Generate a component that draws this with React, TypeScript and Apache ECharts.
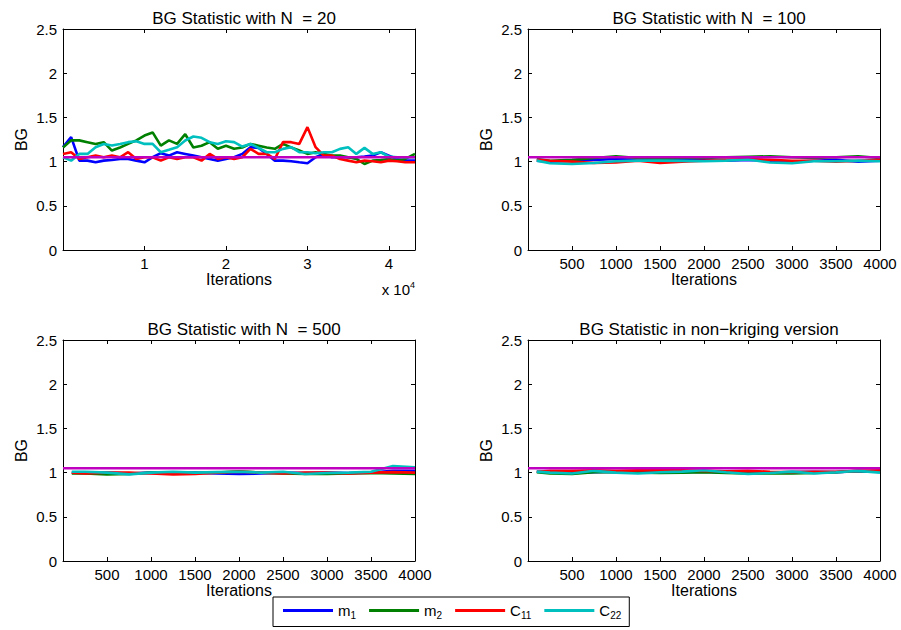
import React, { useEffect, useRef } from 'react';
import * as echarts from 'echarts';

// ---------- data ----------
const iters20 = [0, 1000, 2000, 3000, 4000, 5000, 6000, 7000, 8000, 9000, 10000, 11000, 12000, 13000, 14000, 15000, 16000, 17000, 18000, 19000, 20000, 21000, 22000, 23000, 24000, 25000, 26000, 27000, 28000, 29000, 30000, 31000, 32000, 33000, 34000, 35000, 36000, 37000, 38000, 39000, 40000, 41000, 42000, 43200];
const m1_20 = [1.163, 1.277, 1.011, 1.011, 0.992, 1.011, 1.019, 1.03, 1.03, 1.011, 0.992, 1.049, 1.095, 1.068, 1.106, 1.087, 1.068, 1.049, 1.03, 1.011, 1.03, 1.049, 1.087, 1.163, 1.155, 1.087, 1.011, 1.011, 1.004, 0.992, 0.981, 1.049, 1.087, 1.049, 1.049, 1.049, 1.049, 1.057, 1.068, 1.106, 1.068, 1.03, 1.011, 1.011];
const m2_20 = [1.16, 1.24, 1.24, 1.22, 1.2, 1.22, 1.125, 1.16, 1.2, 1.24, 1.295, 1.33, 1.18, 1.24, 1.2, 1.31, 1.16, 1.18, 1.22, 1.145, 1.18, 1.145, 1.16, 1.2, 1.18, 1.16, 1.145, 1.2, 1.16, 1.125, 1.087, 1.105, 1.087, 1.068, 1.068, 1.049, 1.03, 0.973, 1.011, 1.019, 1.03, 1.011, 1.03, 1.087];
const c11_20 = [1.087, 1.106, 1.03, 1.049, 1.068, 1.049, 1.068, 1.049, 1.106, 1.03, 1.049, 1.049, 1.011, 1.049, 1.03, 1.049, 1.049, 1.011, 1.087, 1.03, 1.049, 1.03, 1.049, 1.144, 1.087, 1.087, 1.03, 1.22, 1.22, 1.2, 1.39, 1.163, 1.068, 1.068, 1.03, 1.011, 0.992, 1.011, 1.004, 0.992, 1.011, 1.004, 0.992, 0.992];
const c22_20 = [1.049, 1.011, 1.087, 1.087, 1.163, 1.2, 1.182, 1.2, 1.22, 1.231, 1.2, 1.2, 1.106, 1.133, 1.163, 1.239, 1.284, 1.269, 1.22, 1.2, 1.231, 1.22, 1.17, 1.2, 1.155, 1.106, 1.106, 1.144, 1.163, 1.106, 1.106, 1.095, 1.106, 1.106, 1.144, 1.163, 1.087, 1.155, 1.087, 1.106, 1.057, 1.049, 1.049, 1.049];

const iters = [100, 250, 500, 750, 1000, 1250, 1500, 1750, 2000, 2250, 2500, 2750, 3000, 3250, 3500, 3750, 4000];

const m1_100 = [1.01, 1.0, 1.01, 1.02, 1.03, 1.02, 1.01, 1.02, 1.02, 1.01, 1.02, 1.01, 1.0, 1.01, 1.02, 1.0, 1.01];
const m2_100 = [1.03, 1.01, 1.02, 1.04, 1.06, 1.04, 1.03, 1.04, 1.04, 1.05, 1.055, 1.06, 1.05, 1.04, 1.05, 1.06, 1.04];
const c11_100 = [1.02, 1.01, 1.0, 0.985, 0.99, 1.01, 0.985, 1.0, 1.01, 1.02, 1.03, 1.02, 1.01, 1.01, 1.0, 1.01, 1.02];
const c22_100 = [1.011, 0.981, 0.973, 0.985, 1.004, 1.011, 1.011, 1.008, 1.004, 1.011, 1.023, 0.989, 0.981, 1.004, 1.004, 1.011, 1.004];

const m1_500 = [1.0, 0.995, 1.0, 0.99, 1.0, 0.995, 1.0, 0.99, 0.985, 0.99, 1.0, 0.995, 1.0, 0.995, 1.0, 1.02, 1.02];
const m2_500 = [0.99, 0.99, 0.98, 0.985, 1.0, 1.0, 0.995, 1.0, 1.015, 1.0, 0.99, 0.985, 0.985, 0.99, 0.995, 0.99, 0.985];
const c11_500 = [1.0, 0.99, 1.0, 1.0, 0.99, 0.98, 0.985, 1.0, 1.01, 1.0, 0.99, 1.0, 1.0, 0.99, 1.0, 1.005, 1.0];
const c22_500 = [1.01, 1.01, 1.0, 0.98, 1.0, 1.01, 1.0, 1.005, 1.01, 1.0, 1.01, 0.985, 0.995, 1.0, 1.01, 1.075, 1.06];

const m1_nk = [1.01, 1.005, 1.0, 1.005, 1.01, 1.005, 1.0, 1.005, 1.01, 1.0, 1.005, 1.0, 1.005, 1.01, 1.005, 1.015, 1.01];
const m2_nk = [1.004, 0.99, 0.985, 1.004, 1.004, 1.0, 0.995, 1.0, 1.004, 0.995, 0.99, 0.99, 0.99, 0.995, 1.004, 1.02, 1.01];
const c11_nk = [1.01, 1.02, 1.02, 1.025, 1.02, 1.025, 1.025, 1.025, 1.02, 1.015, 1.02, 1.01, 1.005, 1.01, 1.01, 1.02, 1.025];
const c22_nk = [1.011, 1.0, 0.99, 1.02, 1.0, 0.99, 1.004, 1.011, 1.027, 1.004, 0.985, 0.996, 1.011, 0.99, 1.004, 1.02, 1.0];

const threshold = 1.05;
const yTicks = [0, 0.5, 1, 1.5, 2, 2.5];
const seriesNames = ['m1', 'm2', 'C11', 'C22'];
const titles = [
  'BG Statistic with N  = 20',
  'BG Statistic with N  = 100',
  'BG Statistic with N  = 500',
  'BG Statistic in non\u2212kriging version',
];

// ---------- layout / style ----------
const FONT = '"Liberation Sans", Arial, Helvetica, sans-serif';
const COLORS = ['#0000ff', '#008000', '#ff0000', '#00bfbf'];
const MAGENTA = '#bf00bf';
const GW = 352;
const GH = 221;

const panels = [
  { x: iters20, ys: [m1_20, m2_20, c11_20, c22_20], xmax: 43200, interval: 10000, scale: 10000, left: 63, top: 29 },
  { x: iters, ys: [m1_100, m2_100, c11_100, c22_100], xmax: 4000, interval: 500, scale: 1, left: 528, top: 29 },
  { x: iters, ys: [m1_500, m2_500, c11_500, c22_500], xmax: 4000, interval: 500, scale: 1, left: 63, top: 340 },
  { x: iters, ys: [m1_nk, m2_nk, c11_nk, c22_nk], xmax: 4000, interval: 500, scale: 1, left: 528, top: 340 },
];

function buildOption() {
  const grid: any[] = [];
  const xAxis: any[] = [];
  const yAxis: any[] = [];
  const series: any[] = [];
  const title: any[] = [];
  const lineAx = { show: true, onZero: false, lineStyle: { color: '#000', width: 1 } };
  const tick = { show: true, inside: true, length: 4, lineStyle: { color: '#000', width: 1 } };
  const labelStyle = { color: '#000', fontSize: 15, fontFamily: FONT };

  panels.forEach((p, i) => {
    grid.push({ left: p.left, top: p.top, width: GW, height: GH, containLabel: false });
    title.push({
      text: titles[i],
      left: p.left + GW / 2,
      top: p.top - 24,
      textAlign: 'center',
      textStyle: { fontSize: 17, fontWeight: 'normal', color: '#000', fontFamily: FONT },
    });
    const fmt = (v: number) => {
      if (v <= 0 || v % p.interval !== 0) return '';
      return String(v / p.scale);
    };
    xAxis.push({
      gridIndex: i, type: 'value', position: 'bottom', min: 0, max: p.xmax, interval: p.interval,
      axisLine: lineAx, axisTick: tick, splitLine: { show: false },
      axisLabel: { ...labelStyle, margin: 6, formatter: fmt, showMinLabel: true, showMaxLabel: true },
      name: 'Iterations', nameLocation: 'middle', nameGap: 21,
      nameTextStyle: { color: '#000', fontSize: 16, fontFamily: FONT },
    });
    xAxis.push({
      gridIndex: i, type: 'value', position: 'top', min: 0, max: p.xmax, interval: p.interval,
      axisLine: lineAx, axisTick: tick, splitLine: { show: false }, axisLabel: { show: false },
    });
    yAxis.push({
      gridIndex: i, type: 'value', position: 'left', min: yTicks[0], max: yTicks[yTicks.length - 1], interval: 0.5,
      axisLine: lineAx, axisTick: tick, splitLine: { show: false },
      axisLabel: { ...labelStyle, margin: 6 },
      name: 'BG', nameLocation: 'middle', nameGap: 34, nameRotate: 90,
      nameTextStyle: { color: '#000', fontSize: 16, fontFamily: FONT },
    });
    yAxis.push({
      gridIndex: i, type: 'value', position: 'right', min: 0, max: 2.5, interval: 0.5,
      axisLine: lineAx, axisTick: tick, splitLine: { show: false }, axisLabel: { show: false },
    });
    p.ys.forEach((arr, k) => {
      series.push({
        name: seriesNames[k], type: 'line', xAxisIndex: 2 * i, yAxisIndex: 2 * i,
        data: p.x.map((xv, j) => [xv, arr[j]]),
        showSymbol: false, symbol: 'none', color: COLORS[k],
        lineStyle: { width: 2.6, color: COLORS[k] },
      });
    });
    series.push({
      name: 'threshold', type: 'line', xAxisIndex: 2 * i, yAxisIndex: 2 * i,
      data: [[0, threshold], [p.xmax, threshold]],
      showSymbol: false, symbol: 'none', color: MAGENTA,
      lineStyle: { width: 2.6, color: MAGENTA },
    });
  });

  return {
    animation: false,
    backgroundColor: '#fff',
    textStyle: { fontFamily: FONT },
    title,
    grid,
    xAxis,
    yAxis,
    series,
    legend: {
      data: seriesNames,
      left: 273, top: 597,
      orient: 'horizontal',
      padding: [6, 8, 6, 10],
      itemGap: 13,
      itemWidth: 50,
      itemHeight: 3,
      icon: 'rect',
      selectedMode: false,
      borderColor: '#000', borderWidth: 1, borderRadius: 0,
      backgroundColor: '#fff',
      formatter: (name: string) => `{b|${name.slice(0, 1)}}{s|${name.slice(1)}}`,
      textStyle: {
        color: '#000', fontFamily: FONT, fontSize: 15,
        rich: {
          b: { fontSize: 15, lineHeight: 20, color: '#000', fontFamily: FONT },
          s: { fontSize: 10, lineHeight: 10, verticalAlign: 'bottom', color: '#000', fontFamily: FONT },
        },
      },
    },
    graphic: [
      {
        type: 'text', x: 415, y: 289,
        style: {
          text: 'x 10{p|4}', fill: '#000', fontSize: 15, fontFamily: FONT,
          align: 'right', verticalAlign: 'middle',
          rich: {
            p: { fontSize: 9, verticalAlign: 'top', lineHeight: 18, fontFamily: FONT },
          },
        },
      },
    ],
  };
}

export default function App() {
  const ref = useRef<HTMLDivElement>(null);
  useEffect(() => {
    if (!ref.current) return;
    const chart = echarts.init(ref.current, undefined, { renderer: 'svg' });
    chart.setOption(buildOption() as any);
    return () => chart.dispose();
  }, []);
  return <div ref={ref} style={{ position: 'fixed', left: 0, top: 0, width: 901, height: 630, background: '#fff' }} />;
}
